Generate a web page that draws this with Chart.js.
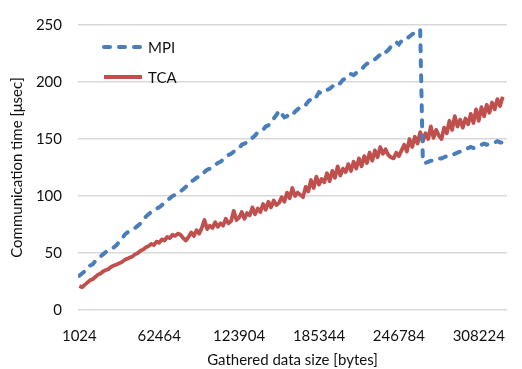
<!DOCTYPE html>
<html>
<head>
<meta charset="utf-8">
<script src="https://cdn.jsdelivr.net/npm/chart.js@4"></script>
<style>
html,body{margin:0;padding:0;background:#fff;}
</style>
</head>
<body>
<canvas id="c" width="522" height="369"></canvas>
<script>
// Gathered data size vs. communication time, MPI against TCA.
// Samples are taken every 2048 bytes starting at 1024.

const xTicks = [1024, 62464, 123904, 185344, 246784, 308224];

const mpiTime = [
  30, 32, 34, 37, 39, 40, 43, 45, 47, 49,
  51, 52, 53, 55, 57, 60, 62, 66, 68, 69,
  71, 72, 74, 76, 79, 82, 84, 86, 88, 89,
  90, 92, 94, 96, 98, 100, 101, 103, 104, 106,
  108, 111, 113, 114, 116, 117, 120, 121, 123, 124,
  126, 127, 129, 130, 132, 134, 136, 137, 139, 141,
  142, 145, 146, 147, 150, 151, 153, 156, 157, 158,
  161, 162, 165, 168, 171, 175, 172, 169, 170, 172,
  171, 174, 176, 178, 178, 180, 183, 185, 188, 187,
  191, 190, 192, 193, 194, 196, 198, 197, 199, 202,
  203, 204, 207, 206, 208, 210, 211, 214, 216, 217,
  218, 220, 222, 224, 223, 226, 228, 231, 233, 235,
  233, 236, 238, 238, 240, 242, 243, 244, 246, 130,
  129, 130, 131, 131, 132, 133, 133, 134, 135, 136,
  136, 137, 138, 139, 140, 141, 142, 143, 142, 143,
  144, 145, 146, 145, 146, 147, 147, 148, 147, 147
];

const tcaTime = [
  21, 20, 22, 24, 26, 27, 29, 31, 32, 34,
  35, 36, 38, 39, 40, 41, 42, 44, 45, 46,
  47, 49, 50, 52, 53, 55, 56, 58, 57, 60,
  59, 62, 61, 64, 63, 66, 65, 67, 66, 63,
  61, 64, 68, 65, 70, 67, 72, 79, 71, 74,
  72, 77, 73, 76, 74, 80, 76, 78, 87, 79,
  81, 86, 80, 85, 83, 90, 84, 89, 86, 93,
  88, 95, 90, 96, 92, 94, 99, 95, 103, 98,
  107, 100, 103, 101, 99, 108, 104, 114, 107, 117,
  110, 115, 112, 120, 113, 122, 116, 126, 118, 124,
  121, 128, 122, 130, 124, 133, 126, 135, 129, 138,
  131, 140, 134, 143, 137, 141, 136, 134, 133, 138,
  135, 140, 145, 139, 150, 143, 152, 146, 156, 148,
  155, 150, 161, 151, 158, 153, 150, 160, 155, 166,
  158, 170, 161, 167, 160, 168, 163, 172, 164, 176,
  166, 178, 170, 180, 173, 182, 176, 185, 179, 187
];

const sizes = mpiTime.map((_, i) => 1024 + 2048 * i);

const FONT = 'Lato, "Open Sans", sans-serif';
const TEXT = '#111';
const BLUE = '#4a7ebb';
const RED = '#c0504d';

// legend sits inside the plot, top-left, like the original
const insideLegend = {
  id: 'insideLegend',
  afterDraw(chart){
    const ctx = chart.ctx;
    const rows = [{y: 47}, {y: 77}];
    ctx.save();
    chart.data.datasets.forEach((ds, i) => {
      const y = rows[i].y;
      ctx.beginPath();
      ctx.lineWidth = ds.borderWidth;
      ctx.strokeStyle = ds.borderColor;
      ctx.lineCap = ds.borderCapStyle || 'butt';
      ctx.setLineDash(ds.borderDash || []);
      ctx.moveTo(104, y);
      ctx.lineTo(142, y);
      ctx.stroke();
      ctx.setLineDash([]);
      ctx.fillStyle = TEXT;
      ctx.font = '15px ' + FONT;
      ctx.textBaseline = 'middle';
      ctx.fillText(ds.label, 148, y + 1);
    });
    ctx.restore();
  }
};

new Chart(document.getElementById('c'), {
  type: 'line',
  data: {
    datasets: [
      {
        label: 'MPI',
        data: sizes.map((x, i) => ({x, y: mpiTime[i]})),
        borderColor: BLUE,
        borderWidth: 4,
        borderDash: [6, 9],
        borderCapStyle: 'round',
        pointRadius: 0,
        tension: 0
      },
      {
        label: 'TCA',
        data: sizes.map((x, i) => ({x, y: tcaTime[i]})),
        borderColor: RED,
        borderWidth: 3.8,
        borderJoinStyle: 'round',
        pointRadius: 0,
        tension: 0
      }
    ]
  },
  options: {
    responsive: false,
    animation: false,
    devicePixelRatio: 1,
    layout: { padding: { top: 6, right: 2, left: 0, bottom: 0 } },
    plugins: { legend: { display: false }, tooltip: { enabled: false } },
    scales: {
      x: {
        type: 'linear',
        min: 0,
        max: 329900,
        afterBuildTicks(scale){ scale.ticks = xTicks.map(v => ({value: v})); },
        afterFit(scale){ scale.height = 59; },
        grid: { display: false, drawTicks: false },
        border: { display: false },
        ticks: {
          autoSkip: false,
          maxRotation: 0,
          padding: 17,
          color: TEXT,
          font: { family: FONT, size: 15 },
          callback: v => String(v)
        },
        title: {
          display: true,
          text: 'Gathered data size [bytes]',
          color: TEXT,
          font: { family: FONT, size: 15 },
          padding: { top: 2, bottom: 0 }
        }
      },
      y: {
        min: 0,
        max: 250,
        afterFit(scale){ scale.width = 78; },
        grid: { color: '#d9d9d9', lineWidth: 1.5, drawTicks: false },
        border: { display: false },
        ticks: {
          stepSize: 50,
          padding: 16,
          color: TEXT,
          font: { family: FONT, size: 15 }
        },
        title: {
          display: true,
          text: 'Communication time [μsec]',
          color: TEXT,
          font: { family: FONT, size: 15 },
          padding: { top: 8, bottom: 0 }
        }
      }
    }
  },
  plugins: [insideLegend]
});
</script>
</body>
</html>
